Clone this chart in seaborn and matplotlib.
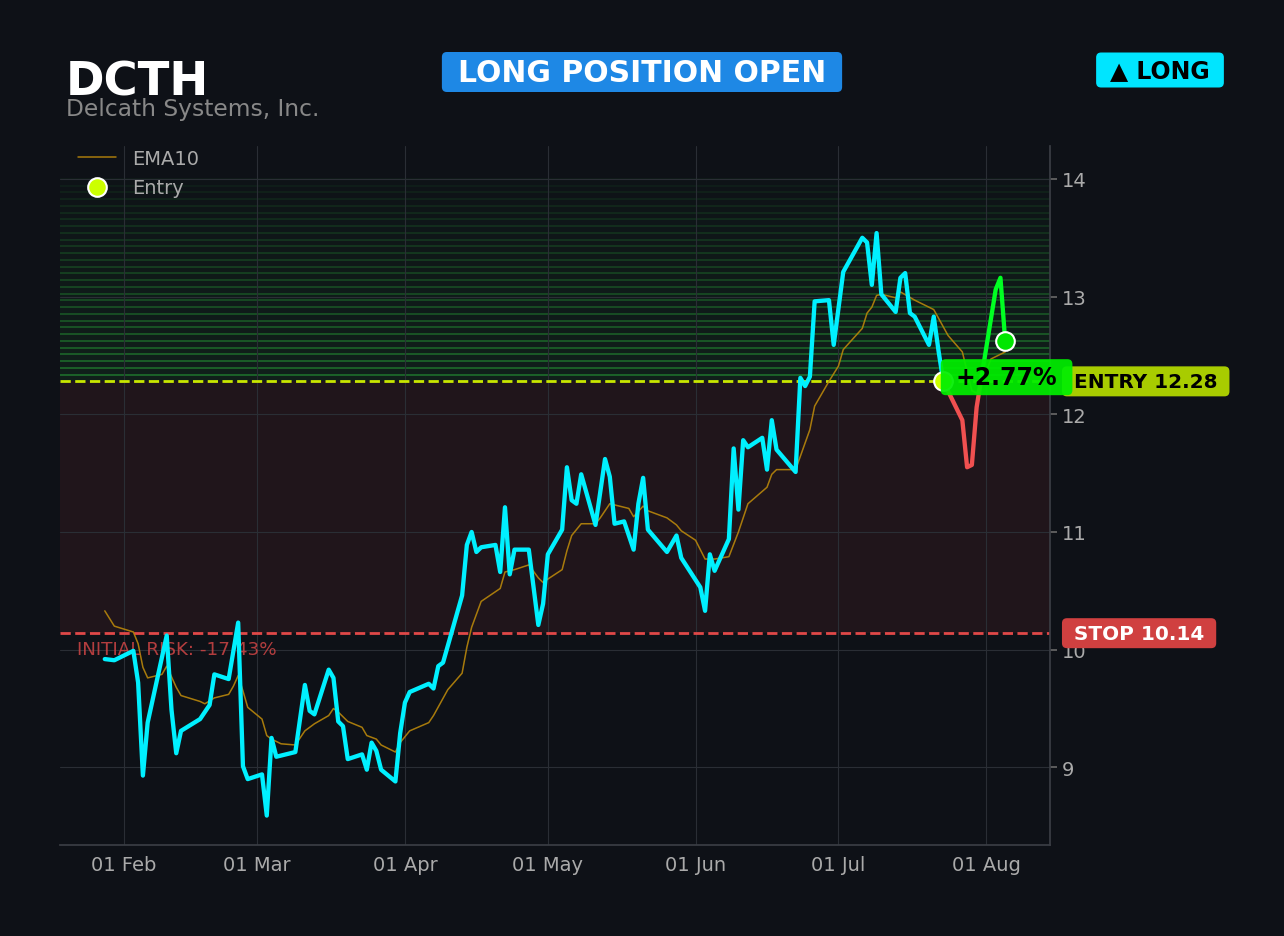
# DCTH 포지션 차트 (다크 테마)

import numpy as np
import pandas as pd
import matplotlib
matplotlib.use('Agg')
import matplotlib.pyplot as plt
import matplotlib.dates as mdates
import matplotlib.transforms as mtransforms
from matplotlib.patches import Rectangle, FancyBboxPatch
import seaborn as sns

# =============================================================================
# 데이터 (2025-02-01 기준 일수 오프셋)
# =============================================================================

START = pd.Timestamp('2025-02-01')

price_day = [-4, -2, 2, 3, 4, 5, 9, 10, 11, 12, 16, 17, 18, 19, 22, 24, 25, 26,
             29, 30, 31, 32, 36, 38, 39, 40, 43, 44, 45, 46, 47, 50, 51, 52, 53, 54,
             57, 58, 59, 60, 64, 65, 66, 67, 71, 72, 73, 74, 75, 78, 79, 80, 81, 82,
             85, 87, 88, 89, 92, 93, 94, 95, 96, 99, 101, 102, 103, 105, 107, 108,
             109, 110, 114, 116, 117, 121, 122, 123, 124, 127, 128, 129, 130, 131,
             134, 135, 136, 137, 141, 142, 143, 144, 145, 148, 149, 151, 155, 156,
             157, 158, 159, 162, 163, 164, 165, 166, 169, 170, 171, 172, 176, 177,
             178, 179, 183, 184, 185]
price_val = [9.92, 9.91, 9.99, 9.72, 8.93, 9.38, 10.12, 9.49, 9.12, 9.31, 9.41, 9.47,
             9.53, 9.79, 9.75, 10.23, 9.01, 8.90, 8.94, 8.59, 9.25, 9.09, 9.13, 9.70,
             9.48, 9.45, 9.83, 9.76, 9.39, 9.35, 9.07, 9.11, 8.98, 9.21, 9.14, 8.98,
             8.88, 9.29, 9.55, 9.64, 9.71, 9.67, 9.86, 9.89, 10.46, 10.89, 11.00, 10.83,
             10.87, 10.89, 10.66, 11.21, 10.64, 10.85, 10.85, 10.21, 10.39, 10.81,
             11.02, 11.55, 11.27, 11.24, 11.49, 11.06, 11.62, 11.47, 11.07, 11.09,
             10.85, 11.24, 11.46, 11.02, 10.83, 10.97, 10.78, 10.53, 10.33, 10.81,
             10.67, 10.94, 11.71, 11.19, 11.78, 11.72, 11.80, 11.53, 11.95, 11.70,
             11.51, 12.31, 12.24, 12.32, 12.96, 12.97, 12.59, 13.21, 13.50, 13.46,
             13.10, 13.54, 13.02, 12.87, 13.16, 13.20, 12.86, 12.83, 12.59, 12.83,
             12.54, 12.28, 11.95, 11.55, 11.57, 12.06, 13.06, 13.16, 12.62]

ema_day = [-4, -2, 2, 3, 4, 5, 8, 9, 11, 12, 16, 17, 19, 22, 23, 24, 25, 26, 29, 30,
           31, 33, 36, 38, 40, 43, 44, 45, 47, 50, 51, 53, 54, 57, 58, 60, 64, 65, 68,
           71, 72, 73, 75, 79, 80, 82, 85, 87, 88, 89, 92, 93, 94, 96, 99, 100, 102,
           103, 106, 107, 109, 110, 114, 116, 117, 120, 122, 124, 127, 129, 131, 135,
           136, 137, 141, 144, 145, 148, 150, 151, 155, 156, 157, 158, 159, 162, 163,
           166, 170, 173, 176, 178, 179, 181, 182, 185]
ema_val = [10.33, 10.20, 10.15, 10.05, 9.85, 9.76, 9.79, 9.86, 9.68, 9.61, 9.56, 9.54,
           9.59, 9.62, 9.69, 9.78, 9.65, 9.51, 9.41, 9.27, 9.24, 9.20, 9.19, 9.31,
           9.37, 9.44, 9.50, 9.47, 9.39, 9.34, 9.27, 9.24, 9.19, 9.13, 9.21, 9.31,
           9.38, 9.44, 9.66, 9.80, 10.02, 10.19, 10.41, 10.52, 10.66, 10.68, 10.72,
           10.61, 10.57, 10.60, 10.68, 10.84, 10.97, 11.07, 11.07, 11.12, 11.24, 11.23,
           11.20, 11.13, 11.22, 11.18, 11.12, 11.06, 11.01, 10.93, 10.77, 10.77, 10.79,
           11.00, 11.24, 11.38, 11.49, 11.53, 11.53, 11.87, 12.07, 12.28, 12.41, 12.55,
           12.73, 12.86, 12.91, 13.01, 13.02, 12.99, 13.04, 12.97, 12.89, 12.67, 12.53,
           12.20, 12.18, 12.36, 12.47, 12.53]

ticker = 'DCTH'
company = 'Delcath Systems, Inc.'
entry_day = 172
entry_price = 12.28
stop_price = 10.14
zone_top = 14.0

# =============================================================================
# 스타일
# =============================================================================

BG = '#0e1117'
CYAN = '#00f0ff'
sns.set_theme(style='dark')
plt.rcParams['font.family'] = ['DejaVu Sans']

price_dates = START + pd.to_timedelta(price_day, unit='D')
ema_dates = START + pd.to_timedelta(ema_day, unit='D')
entry_date = START + pd.Timedelta(days=entry_day)
price_val = np.array(price_val)

fig = plt.figure(figsize=(12.84, 9.37), dpi=100, facecolor=BG)
ax = fig.add_axes([60 / 1284, 1 - 846 / 937, 990 / 1284, 699 / 937])
ax.set_facecolor(BG)
trans = mtransforms.blended_transform_factory(ax.transAxes, ax.transData)

# 손실 구간 / 이익 구간 배경
ax.axhspan(stop_price, entry_price, color='#ff4d4d', alpha=0.08, lw=0, zorder=0)
n_bands = 30
edges = np.linspace(entry_price, zone_top, n_bands + 1)
for i in range(n_bands):
    fade = 1 - i / n_bands
    ax.axhspan(edges[i], edges[i + 1], color='#2ecc40', alpha=0.07 * fade + 0.01,
               lw=0, zorder=0)
    ax.axhline(edges[i + 1], color='#2ecc40', alpha=0.38 * fade + 0.04, lw=1.3, zorder=0)

# EMA10
sns.lineplot(x=ema_dates, y=ema_val, ax=ax, color='#b8860b', lw=1.1, alpha=0.9,
             label='EMA10', zorder=3)

# 가격선: 진입 전 (시안)
pre = price_dates <= entry_date
sns.lineplot(x=price_dates[pre], y=price_val[pre], ax=ax, color=CYAN, lw=3.1, zorder=4)

# 진입 후: 진입가 기준 위는 초록, 아래는 빨강
post = price_dates >= entry_date
sns.lineplot(x=price_dates[post], y=price_val[post], ax=ax, color='#f05050', lw=3.1, zorder=4)
ax.lines[-1].set_clip_path(Rectangle((0, 0), 1, entry_price, transform=trans))
sns.lineplot(x=price_dates[post], y=price_val[post], ax=ax, color='#00ff22', lw=3.1, zorder=4)
ax.lines[-1].set_clip_path(Rectangle((0, entry_price), 1, 100, transform=trans))

# 진입가 / 손절가 라인
ax.axhline(entry_price, color='#c8e600', ls='--', lw=2, zorder=2)
ax.axhline(stop_price, color='#e04848', ls='--', lw=2, zorder=2)

# 마커
sns.scatterplot(x=[entry_date], y=[entry_price], ax=ax, color='#ccff00', s=180,
                edgecolor='white', linewidth=1.5, label='Entry', zorder=6)
sns.scatterplot(x=[price_dates[-1]], y=[price_val[-1]], ax=ax, color='#00e600', s=180,
                edgecolor='white', linewidth=1.5, zorder=6)

# =============================================================================
# 축 설정
# =============================================================================

ax.set_xlim(START - pd.Timedelta(days=13.4), START + pd.Timedelta(days=194.4))
ax.set_ylim(8.34, 14.28)
ax.xaxis.set_major_locator(mdates.MonthLocator())
ax.xaxis.set_major_formatter(mdates.DateFormatter('%d %b'))
ax.set_yticks([9, 10, 11, 12, 13, 14])
ax.yaxis.tick_right()
ax.tick_params(axis='x', colors='#666666', labelcolor='#aaaaaa', labelsize=14, length=4)
ax.tick_params(axis='y', colors='#666666', labelcolor='#aaaaaa', labelsize=14, length=5)
ax.set_xlabel('')
ax.set_ylabel('')
ax.grid(True, color='#2a2e35', lw=0.8)
for side in ['left', 'top']:
    ax.spines[side].set_visible(False)
for side in ['right', 'bottom']:
    ax.spines[side].set_visible(True)
    ax.spines[side].set_color('#3a3d44')

ax.legend(loc='upper left', bbox_to_anchor=(0.0, 1.021), frameon=False, fontsize=14,
          labelcolor='#aaaaaa')

# =============================================================================
# 라벨
# =============================================================================

gain = (price_val[-1] - entry_price) / entry_price * 100
risk = (stop_price - entry_price) / entry_price * 100

gain_txt = ax.annotate(f'{gain:+.2f}%', xy=(entry_date, entry_price), xytext=(9, 3),
                       textcoords='offset points', ha='left', va='center', fontsize=17,
                       fontweight='bold', color='black', zorder=8)
entry_txt = ax.text(1.0242, entry_price, f'ENTRY {entry_price:.2f}', transform=trans,
                    ha='left', va='center', fontsize=14.4, fontweight='bold',
                    color='black', clip_on=False, zorder=8)
stop_txt = ax.text(1.0242, stop_price, f'STOP {stop_price:.2f}', transform=trans,
                   ha='left', va='center', fontsize=14.4, fontweight='bold',
                   color='white', clip_on=False, zorder=8)
ax.text(0.017, stop_price - 0.06, f'INITIAL RISK: {risk:.2f}%', transform=trans,
        ha='left', va='top', fontsize=13.2, color='#d04545', alpha=0.85)

# 헤더
fig.text(66 / 1284, 1 - 95 / 937, ticker, fontsize=33.5, fontweight='bold',
         color='white', va='baseline')
fig.text(66 / 1284, 1 - 116 / 937, company, fontsize=16.8, color='#888888', va='baseline')
status_txt = fig.text(642 / 1284, 1 - 73 / 937, 'LONG POSITION OPEN', fontsize=21.5,
                      fontweight='bold', color='white', ha='center', va='center', zorder=3)
side_txt = fig.text(1160 / 1284, 1 - 71 / 937, '▲ LONG', fontsize=17, fontweight='bold',
                    color='black', ha='center', va='center', zorder=3)


def add_box(parent, txt, pad_x, height, color, zorder, alpha=1.0):
    """텍스트 둘레에 둥근 배경 박스를 픽셀 단위로 그림"""
    bb = txt.get_window_extent(renderer)
    pad_y = (height - bb.height) / 2
    patch = FancyBboxPatch((bb.x0 - pad_x, bb.y0 - pad_y), bb.width + 2 * pad_x,
                           bb.height + 2 * pad_y, boxstyle='round,pad=0,rounding_size=5',
                           fc=color, ec='none', alpha=alpha,
                           transform=mtransforms.IdentityTransform(), zorder=zorder)
    parent.add_artist(patch)
    patch.set_clip_on(False)


fig.canvas.draw()
renderer = fig.canvas.get_renderer()
add_box(ax, entry_txt, 12, 30, '#a8cc00', 7)
add_box(ax, stop_txt, 12, 30, '#d04040', 7)
add_box(ax, gain_txt, 15, 36, '#00ee00', 7.5, alpha=0.93)
add_box(fig, status_txt, 16, 40, '#1e88e5', 1)
add_box(fig, side_txt, 14, 35, '#00e5ff', 1)

fig.savefig('out.png', dpi=100, facecolor=BG)
